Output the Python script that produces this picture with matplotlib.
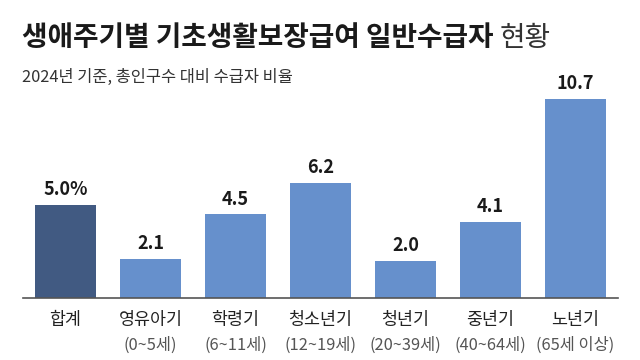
import matplotlib
matplotlib.use("Agg")
import matplotlib.pyplot as plt

plt.rcParams['font.family'] = ['Noto Sans CJK KR', 'DejaVu Sans']

categories = ['합계', '영유아기', '학령기', '청소년기', '청년기', '중년기', '노년기']
age_ranges = ['', '(0~5세)', '(6~11세)', '(12~19세)', '(20~39세)', '(40~64세)', '(65세 이상)']
values = [5.0, 2.1, 4.5, 6.2, 2.0, 4.1, 10.7]
value_labels = ['5.0%', '2.1', '4.5', '6.2', '2.0', '4.1', '10.7']

title_bold = '생애주기별 기초생활보장급여 일반수급자'
title_light = '현황'
subtitle = '2024년 기준, 총인구수 대비 수급자 비율'

dark = '#415a82'
light = '#6690cc'

fig = plt.figure(figsize=(6.4, 3.6), dpi=100)
ax = fig.add_axes([23/640, 1 - 298/360, (618-23)/640, 214/360])

x = list(range(len(categories)))
colors = [dark] + [light] * (len(categories) - 1)
ax.bar(x, values, width=0.72, color=colors)
ax.set_xlim(-0.5, 6.5)
ax.set_ylim(0, 11.5)

for s in ['top', 'right', 'left']:
    ax.spines[s].set_visible(False)
ax.spines['bottom'].set_color('#555555')
ax.spines['bottom'].set_linewidth(1.2)
ax.set_xticks([])
ax.set_yticks([])

for xi, v, lab in zip(x, values, value_labels):
    ax.annotate(lab, (xi, v), xytext=(0, 4), textcoords='offset points',
                ha='center', va='bottom', fontsize=13, fontweight='bold',
                color='#1a1a1a', annotation_clip=False)

for xi, cat, rng in zip(x, categories, age_ranges):
    ax.annotate(cat, (xi, 0), xycoords=('data', 'axes fraction'),
                xytext=(0, -16), textcoords='offset points',
                ha='center', va='center', fontsize=12.5, color='#222222',
                annotation_clip=False)
    if rng:
        ax.annotate(rng, (xi, 0), xycoords=('data', 'axes fraction'),
                    xytext=(0, -34), textcoords='offset points',
                    ha='center', va='center', fontsize=11.8, color='#555555',
                    annotation_clip=False)

t1 = fig.text(22/640, 1 - 38/360, title_bold, fontsize=20, fontweight='bold',
              color='#1a1a1a', va='center', ha='left')
fig.canvas.draw()
bb = t1.get_window_extent()
fig.text(bb.x1/640 + 6/640, 1 - 38/360, title_light, fontsize=20,
         fontweight='light', color='#333333', va='center', ha='left')

fig.text(22/640, 1 - 77/360, subtitle, fontsize=11.8, color='#333333',
         va='center', ha='left')

fig.savefig('out.png', dpi=100)
